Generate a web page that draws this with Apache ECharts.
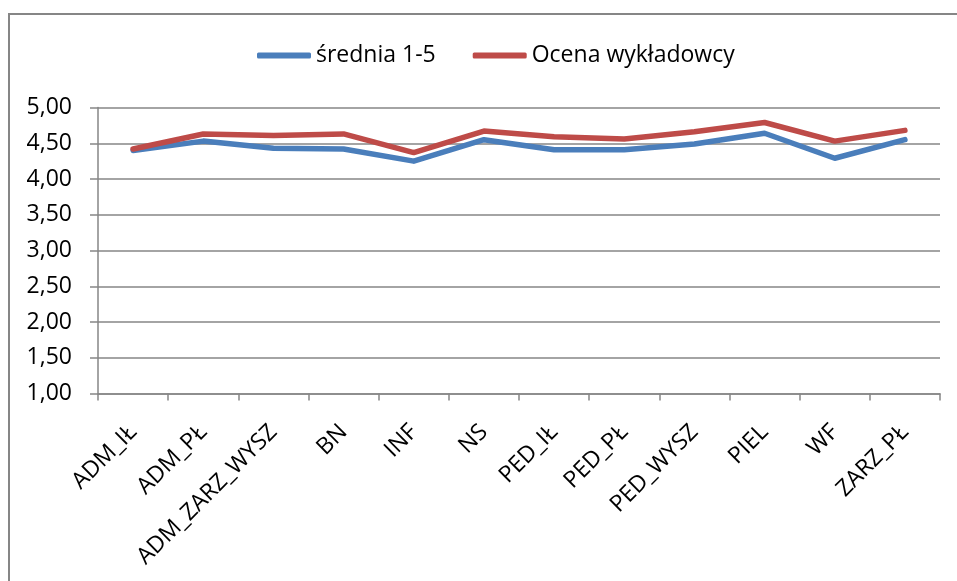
<!DOCTYPE html>
<html>
<head>
<meta charset="utf-8">
<script src="https://cdn.jsdelivr.net/npm/echarts@6/dist/echarts.min.js"></script>
<style>
  html, body { margin: 0; padding: 0; background: #fff; }
  #chart { width: 957px; height: 581px; }
</style>
</head>
<body>
<div id="chart"></div>
<script>
// kierunki
const categories = ["ADM_IŁ", "ADM_PŁ", "ADM_ZARZ_WYSZ", "BN", "INF", "NS", "PED_IŁ", "PED_PŁ", "PED_WYSZ", "PIEL", "WF", "ZARZ_PŁ"];
// średnia 1-5
const srednia = [4.40, 4.53, 4.43, 4.42, 4.25, 4.55, 4.41, 4.41, 4.49, 4.64, 4.29, 4.55];
// ocena wykładowcy
const ocena = [4.42, 4.63, 4.61, 4.63, 4.37, 4.67, 4.59, 4.56, 4.66, 4.79, 4.53, 4.68];

const FONT = "Open Sans";

let chart = echarts.init(document.getElementById("chart"), null, { renderer: "canvas" });
let option = {
  backgroundColor: "#fff",
  textStyle: { fontFamily: FONT },
  animation: false,
  graphic: [
    {
      type: "polyline",
      shape: { points: [[9, 600], [9, 14], [1000, 14]] },
      style: { stroke: "#868686", lineWidth: 2, fill: null },
    },
  ],
  legend: {
    top: 39,
    left: 252,
    itemWidth: 54,
    itemHeight: 6,
    itemGap: 37,
    icon: "roundRect",
    textStyle: { fontFamily: FONT, fontSize: 23, color: "#000" },
    data: ["średnia 1-5", "Ocena wykładowcy"],
  },
  grid: { left: 98, right: 17, top: 107.5, bottom: 187.5 },
  xAxis: {
    type: "category",
    boundaryGap: true,
    data: categories,
    axisLine: { lineStyle: { color: "#868686", width: 1.5 } },
    axisTick: { show: true, length: 7, lineStyle: { color: "#868686", width: 1.5 } },
    axisLabel: {
      interval: 0,
      rotate: 45,
      margin: 35,
      fontSize: 23,
      fontFamily: FONT,
      color: "#000",
    },
  },
  yAxis: {
    type: "value",
    min: 1,
    max: 5,
    interval: 0.5,
    axisLine: { show: true, lineStyle: { color: "#868686", width: 1.5 } },
    axisTick: { show: true, length: 8, lineStyle: { color: "#868686", width: 1.5 } },
    splitLine: { lineStyle: { color: "#868686", width: 1.5 } },
    axisLabel: {
      margin: 26,
      fontSize: 23,
      fontFamily: FONT,
      color: "#000",
      formatter: (v) => v.toFixed(2).replace(".", ","),
    },
  },
  series: [
    {
      name: "średnia 1-5",
      type: "line",
      data: srednia,
      symbol: "none",
      itemStyle: { color: "#4A7EBB" },
      lineStyle: { color: "#4A7EBB", width: 5.5, cap: "round", join: "round" },
    },
    {
      name: "Ocena wykładowcy",
      type: "line",
      data: ocena,
      symbol: "none",
      itemStyle: { color: "#BE4B48" },
      lineStyle: { color: "#BE4B48", width: 5.5, cap: "round", join: "round" },
    },
  ],
};
option && chart.setOption(option);
</script>
</body>
</html>
